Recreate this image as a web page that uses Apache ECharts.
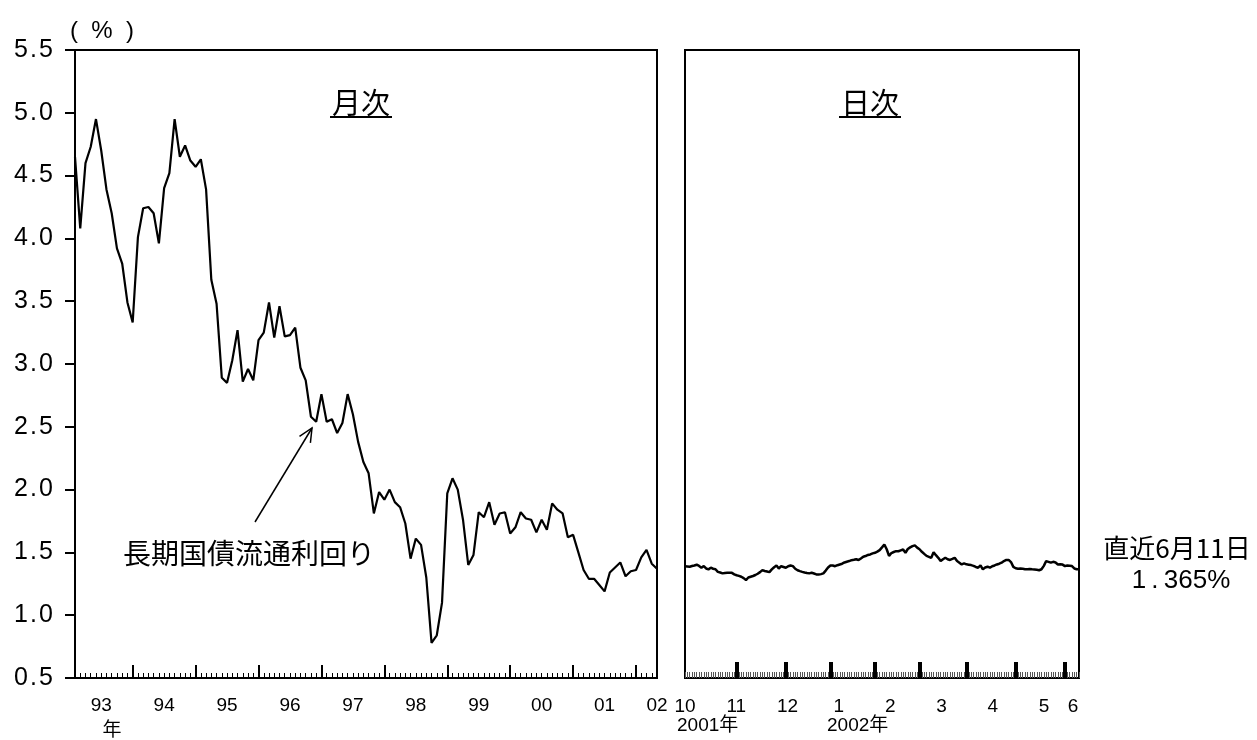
<!doctype html>
<html lang="ja">
<head>
<meta charset="utf-8">
<title>長期国債流通利回り</title>
<script src="https://cdn.jsdelivr.net/npm/echarts@6/dist/echarts.min.js"></script>
<style>
    *{margin:0;padding:0}
    html,body{width:100%;height:100%;background:#fff}
    #main{width:1257px;height:740px}
</style>
</head>
<body>
<div id="main"></div>
<script>
    // 月次: 1993年2月 〜 2002年5月 (%)
    var monthlyYield = [
        4.65, 4.08, 4.60, 4.73, 4.95, 4.70, 4.39, 4.20, 3.92, 3.80, 3.49, 3.33,
        4.01, 4.24, 4.25, 4.20, 3.96, 4.40, 4.52, 4.95, 4.65, 4.74, 4.62, 4.57,
        4.63, 4.39, 3.67, 3.48, 2.89, 2.85, 3.03, 3.27, 2.86, 2.96, 2.87, 3.19,
        3.25, 3.49, 3.21, 3.46, 3.22, 3.23, 3.29, 2.97, 2.87, 2.58, 2.54, 2.76,
        2.54, 2.56, 2.45, 2.53, 2.76, 2.60, 2.38, 2.22, 2.13, 1.81, 1.98, 1.92,
        2.00, 1.90, 1.86, 1.73, 1.45, 1.61, 1.56, 1.30, 0.78, 0.84, 1.10, 1.97,
        2.09, 2.00, 1.76, 1.40, 1.48, 1.82, 1.78, 1.90, 1.72, 1.81, 1.82, 1.65,
        1.70, 1.82, 1.77, 1.76, 1.66, 1.76, 1.68, 1.89, 1.84, 1.81, 1.62, 1.64,
        1.50, 1.36, 1.29, 1.29, 1.24, 1.19, 1.34, 1.38, 1.42, 1.31, 1.35, 1.36,
        1.46, 1.52, 1.41, 1.37
    ];
    var monthlyStart = [1993, 2];

    // 日次: 2001年10月1日 〜 2002年6月11日 (営業日, %)
    var dailyYield = [
        1.390, 1.388, 1.386, 1.392, 1.396, 1.402, 1.392, 1.378, 1.391, 1.372,
        1.365, 1.378, 1.370, 1.366, 1.345, 1.340, 1.333, 1.336, 1.338, 1.338,
        1.337, 1.325, 1.318, 1.313, 1.306, 1.295, 1.280, 1.300, 1.306, 1.312,
        1.320, 1.330, 1.343, 1.359, 1.352, 1.348, 1.343, 1.365, 1.382, 1.396,
        1.372, 1.390, 1.384, 1.378, 1.390, 1.396, 1.391, 1.370, 1.358, 1.351,
        1.345, 1.340, 1.336, 1.333, 1.338, 1.332, 1.325, 1.324, 1.327, 1.333,
        1.355, 1.380, 1.396, 1.396, 1.390, 1.398, 1.404, 1.410, 1.420, 1.426,
        1.431, 1.438, 1.441, 1.445, 1.439, 1.452, 1.466, 1.471, 1.480, 1.484,
        1.492, 1.497, 1.506, 1.518, 1.540, 1.563, 1.525, 1.472, 1.495, 1.503,
        1.510, 1.509, 1.516, 1.523, 1.497, 1.527, 1.540, 1.550, 1.556, 1.538,
        1.525, 1.505, 1.488, 1.472, 1.465, 1.457, 1.502, 1.478, 1.457, 1.431,
        1.445, 1.457, 1.445, 1.440, 1.448, 1.457, 1.431, 1.418, 1.404, 1.412,
        1.405, 1.402, 1.399, 1.393, 1.384, 1.378, 1.396, 1.365, 1.380, 1.386,
        1.378, 1.390, 1.396, 1.404, 1.410, 1.418, 1.431, 1.440, 1.440, 1.423,
        1.385, 1.374, 1.370, 1.372, 1.370, 1.366, 1.365, 1.367, 1.365, 1.364,
        1.361, 1.358, 1.366, 1.393, 1.431, 1.425, 1.418, 1.425, 1.420, 1.404,
        1.405, 1.403, 1.391, 1.396, 1.394, 1.391, 1.372, 1.366, 1.365
    ];
    var dailyStart = '2001-10-01';
    var dailyEnd = '2002-06-11';
    var holidays = [
        '2001-10-08', '2001-11-23', '2001-12-24', '2001-12-31',
        '2002-01-01', '2002-01-02', '2002-01-03', '2002-01-14',
        '2002-02-11', '2002-03-21', '2002-04-29', '2002-05-03', '2002-05-06'
    ];
    var dailyMonthLabels = ['10', '11', '12', '1', '2', '3', '4', '5'];

    var FONT = '"Liberation Sans", Arial, "Noto Sans CJK JP", sans-serif';
    var JFONT = '"Noto Sans CJK JP", "Liberation Sans", sans-serif';

    // month categories
    var months = [];
    for (var i = 0; i < monthlyYield.length; i++) {
        var m = monthlyStart[1] - 1 + i;
        var y = monthlyStart[0] + Math.floor(m / 12);
        months.push(y + '/' + (m % 12 + 1));
    }

    // business days
    var days = [];
    var d = new Date(dailyStart + 'T00:00:00Z');
    var end = new Date(dailyEnd + 'T00:00:00Z');
    while (d <= end) {
        var s = d.toISOString().slice(0, 10);
        var wd = d.getUTCDay();
        if (wd !== 0 && wd !== 6 && holidays.indexOf(s) < 0) days.push(s);
        d.setUTCDate(d.getUTCDate() + 1);
    }
    if (days.length !== dailyYield.length) console.warn('day count', days.length, dailyYield.length);

    function spaced(v) {
        return v.toFixed(1).split('').join('\u200a');
    }

    var myChart = echarts.init(document.getElementById('main'));
    var black = '#000';

    var option = {
        animation: false,
        backgroundColor: '#fff',
        grid: [
            {left: 75, right: 600, top: 50, bottom: 62, show: true, borderColor: black, borderWidth: 2},
            {left: 685, right: 178, top: 50, bottom: 62, show: true, borderColor: black, borderWidth: 2}
        ],
        xAxis: [
            {
                type: 'category', gridIndex: 0, data: months, boundaryGap: false, position: 'bottom',
                axisLine: {lineStyle: {color: black, width: 2}},
                axisTick: {inside: true, length: 5, interval: 0, lineStyle: {color: black, width: 1}},
                axisLabel: {
                    margin: 18, fontSize: 19, color: black, fontFamily: FONT,
                    interval: function (idx, val) {
                        return /\/7$/.test(val) || idx === months.length - 1;
                    },
                    formatter: function (val) {
                        return val.slice(2, 4);
                    }
                },
                splitLine: {show: false}
            },
            {
                type: 'category', gridIndex: 0, data: months, boundaryGap: false, position: 'bottom',
                axisLine: {show: false},
                axisTick: {
                    inside: true, length: 13, lineStyle: {color: black, width: 2},
                    interval: function (idx, val) { return /\/1$/.test(val); }
                },
                axisLabel: {show: false},
                splitLine: {show: false}
            },
            {
                type: 'category', gridIndex: 1, data: days, boundaryGap: false, position: 'bottom',
                axisLine: {lineStyle: {color: black, width: 2}},
                axisTick: {inside: true, length: 6, interval: 0, lineStyle: {color: '#555', width: 1}},
                axisLabel: {show: false},
                splitLine: {show: false}
            },
            {
                type: 'category', gridIndex: 1, data: days, boundaryGap: false, position: 'bottom',
                axisLine: {show: false},
                axisTick: {
                    inside: true, length: 16, lineStyle: {color: black, width: 4},
                    interval: function (idx, val) {
                        return idx > 0 && val.slice(5, 7) !== days[idx - 1].slice(5, 7);
                    }
                },
                axisLabel: {show: false},
                splitLine: {show: false}
            },
            {
                type: 'value', gridIndex: 1, min: 0, max: 7.68, interval: 1, position: 'bottom',
                axisLine: {show: false},
                axisTick: {show: false},
                splitLine: {show: false},
                axisLabel: {
                    margin: 19, fontSize: 19, color: black, fontFamily: FONT,
                    showMinLabel: true, showMaxLabel: true,
                    formatter: function (v) {
                        if (v > 7.5) return '{r|6}';
                        return dailyMonthLabels[Math.round(v)];
                    },
                    rich: {r: {fontSize: 19, color: black, fontFamily: FONT, padding: [0, 12, 0, 0]}}
                }
            }
        ],
        yAxis: [
            {
                type: 'value', gridIndex: 0, min: 0.5, max: 5.5, interval: 0.5,
                axisLine: {show: true, lineStyle: {color: black, width: 2}},
                axisTick: {show: true, length: 10, lineStyle: {color: black, width: 2}},
                axisLabel: {margin: 22, fontSize: 25, color: black, fontFamily: FONT, formatter: spaced},
                splitLine: {show: false}
            },
            {
                type: 'value', gridIndex: 1, min: 0.5, max: 5.5, interval: 0.5,
                axisLine: {show: true, lineStyle: {color: black, width: 2}},
                axisTick: {show: false},
                axisLabel: {show: false},
                splitLine: {show: false}
            }
        ],
        series: [
            {
                name: '月次', type: 'line', xAxisIndex: 0, yAxisIndex: 0,
                data: monthlyYield, showSymbol: false, silent: true,
                lineStyle: {color: black, width: 2.2}
            },
            {
                name: '日次', type: 'line', xAxisIndex: 2, yAxisIndex: 1,
                data: dailyYield, showSymbol: false, silent: true,
                lineStyle: {color: black, width: 2.5}
            }
        ],
        graphic: [
            {type: 'text', x: 102, y: 31, style: {text: '(  %  )', fontSize: 24, fontFamily: FONT, fill: black, textAlign: 'center', textVerticalAlign: 'middle'}},
            {type: 'text', x: 361, y: 103, style: {text: '月次', fontSize: 29, fontFamily: JFONT, fill: black, textAlign: 'center', textVerticalAlign: 'middle'}},
            {type: 'line', shape: {x1: 330, y1: 117, x2: 392, y2: 117}, style: {stroke: black, lineWidth: 2}},
            {type: 'text', x: 870, y: 103, style: {text: '日次', fontSize: 29, fontFamily: JFONT, fill: black, textAlign: 'center', textVerticalAlign: 'middle'}},
            {type: 'line', shape: {x1: 839, y1: 117, x2: 901, y2: 117}, style: {stroke: black, lineWidth: 2}},
            {type: 'text', x: 123, y: 553, style: {text: '長期国債流通利回り', fontSize: 28, fontFamily: JFONT, fill: black, textAlign: 'left', textVerticalAlign: 'middle'}},
            {type: 'line', shape: {x1: 255, y1: 522, x2: 312, y2: 428}, style: {stroke: black, lineWidth: 1.5}},
            {type: 'polyline', shape: {points: [[299.5, 436.3], [312, 428], [310.4, 442.9]]}, style: {stroke: black, lineWidth: 1.5, fill: null}},
            {type: 'text', x: 112, y: 729, style: {text: '年', fontSize: 19, fontFamily: JFONT, fill: black, textAlign: 'center', textVerticalAlign: 'middle'}},
            {type: 'text', x: 677, y: 726, style: {text: '2001年', fontSize: 19, fontFamily: FONT, fill: black, textAlign: 'left', textVerticalAlign: 'middle'}},
            {type: 'text', x: 827, y: 726, style: {text: '2002年', fontSize: 19, fontFamily: FONT, fill: black, textAlign: 'left', textVerticalAlign: 'middle'}},
            {type: 'text', x: 1177, y: 548, style: {text: '直近6月11日', fontSize: 26, fontFamily: JFONT, fill: black, textAlign: 'center', textVerticalAlign: 'middle'}},
            {type: 'text', x: 1181, y: 581, style: {text: '1\u2009.\u2009365%', fontSize: 26, fontFamily: FONT, fill: black, textAlign: 'center', textVerticalAlign: 'middle'}}
        ]
    };
    myChart.setOption(option);
</script>
</body>
</html>
